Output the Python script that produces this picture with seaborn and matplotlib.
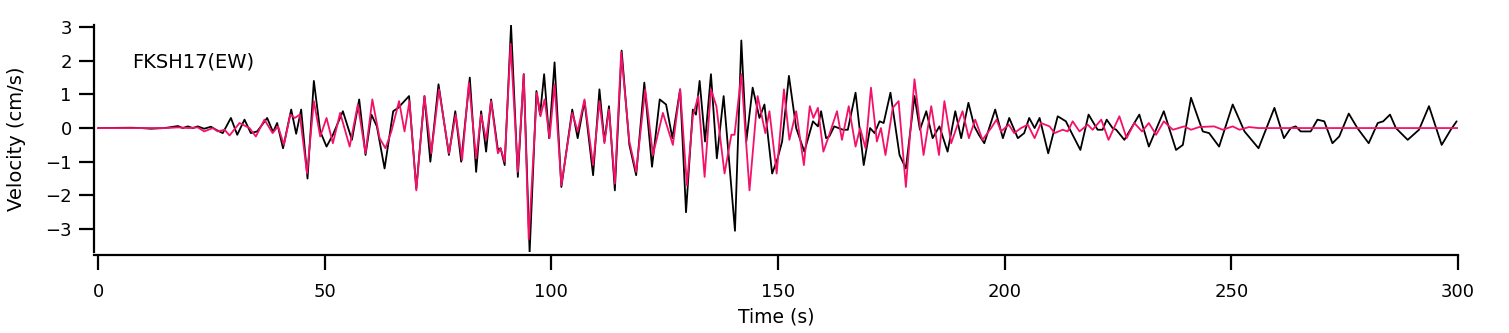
import matplotlib
matplotlib.use("Agg")
import matplotlib.pyplot as plt
import seaborn as sns
import pandas as pd

# ---- data ----
obs_t = [0, 7.3, 9.5, 11.7, 14.6, 15.7, 17.6, 18.7, 19.8, 20.9, 22.0, 23.4, 24.9, 26.0, 27.5,
         29.3, 30.7, 32.3, 33.7, 35.1, 37.3, 38.6, 39.5, 40.8, 42.6, 43.7, 44.8, 46.2, 47.6,
         49.0, 50.4, 51.8, 54.0, 56.0, 57.6, 59.0, 60.3, 61.5, 63.2, 65.1, 66.2, 68.6, 70.2,
         72.0, 73.3, 75.1, 77.4, 78.8, 80.1, 82.0, 83.4, 84.5, 85.6, 86.7, 88.2, 88.8, 89.7,
         91.1, 92.6, 93.9, 95.2, 96.7, 97.5, 98.4, 99.5, 100.7, 102.2, 104.6, 105.8, 107.3,
         109.2, 110.6, 111.7, 112.7, 114.0, 115.5, 117.2, 118.7, 120.5, 122.2, 123.9, 125.3,
         126.7, 128.4, 129.7, 131.2, 131.9, 132.7, 133.9, 135.2, 136.5, 138.0, 140.5, 141.9,
         143.0, 144.4, 145.9, 147.0, 148.7, 149.9, 150.9, 152.4, 154.0, 155.8, 157.7, 158.8,
         159.5, 160.6, 161.3, 162.4, 164.3, 165.4, 167.1, 168.9, 170.3, 171.3, 172.4, 173.3,
         174.8, 176.8, 178.2, 180.1, 181.3, 182.7, 184.1, 185.6, 187.4, 189.1, 190.4, 192.0,
         193.3, 194.3, 195.5, 197.9, 199.6, 201.0, 202.9, 204.3, 205.4, 206.6, 207.7, 209.6,
         211.7, 213.5, 214.6, 216.7, 218.5, 220.5, 221.6, 222.5, 223.8, 224.6, 226.4, 229.7,
         231.8, 235.1, 237.8, 239.3, 241.1, 243.7, 245.1, 247.3, 250.3, 252.9, 256.0, 259.5,
         261.6, 263.1, 264.2, 265.3, 267.5, 269.0, 270.5, 272.3, 273.8, 275.9, 277.8, 280.3,
         282.3, 283.5, 285.0, 286.3, 288.9, 291.4, 293.6, 296.4, 298.4, 299.7]
obs_v = [0, 0.01, 0, -0.02, 0, 0.02, 0.06, 0.0, 0.05, 0.0, 0.05, -0.02, 0.04, -0.05, -0.15,
         0.3, -0.2, 0.25, -0.15, -0.1, 0.3, -0.12, 0.15, -0.6, 0.55, -0.17, 0.55, -1.5, 1.4,
         -0.1, -0.55, -0.2, 0.5, -0.35, 0.85, -0.8, 0.4, 0.05, -1.2, 0.5, 0.6, 0.95, -1.8,
         0.95, -1.0, 1.3, -0.8, 0.5, -1.0, 1.5, -1.3, 0.5, -0.7, 0.85, -0.65, -0.6, -1.1,
         3.05, -1.45, 1.6, -3.7, 1.1, 0.4, 1.6, -0.3, 1.95, -1.75, 0.55, -0.3, 0.8,
         -1.4, 1.15, -0.4, 0.65, -1.85, 2.3, -0.5, -1.4, 1.35, -1.15, 0.85, 0.7,
         -0.3, 1.15, -2.5, 0.55, 0.4, 1.4, -0.4, 1.6, -0.9, 0.95, -3.05, 2.6,
         -0.4, 1.2, 0.3, 0.7, -1.35, -0.9, -0.4, 1.55, 0.0, -0.7, 0.2, 0.05,
         0.5, -0.3, -0.25, 0.05, -0.05, -0.05, 1.05, -1.1, 0.0, -0.15, 0.2, 0.15,
         1.05, -0.8, -1.2, 0.95, -0.05, 0.5, -0.3, 0.05, -0.7, 0.5, -0.3, 0.75,
         0.05, -0.2, -0.45, 0.55, -0.3, 0.3, -0.3, -0.15, 0.3, 0.0, 0.3, -0.75,
         0.35, 0.2, -0.1, -0.65, 0.4, -0.05, -0.05, 0.25, 0.0, -0.05, -0.35, 0.4,
         -0.55, 0.5, -0.65, -0.5, 0.9, -0.1, -0.15, -0.55, 0.7, -0.1, -0.6, 0.6,
         -0.3, 0.0, 0.05, -0.1, -0.1, 0.25, 0.2, -0.45, -0.25, 0.43, 0.0, -0.45,
         0.15, 0.2, 0.4, 0.0, -0.35, -0.05, 0.65, -0.5, -0.05, 0.2]

syn_t = [0, 15, 17.6, 20, 22.0, 23.4, 25.3, 26.4, 27.9, 29.0, 31.2, 33.4, 34.8, 36.7, 38.5,
         39.7, 41.0, 42.4, 43.4, 44.5, 46.1, 47.6, 49.0, 50.4, 51.8, 53.4, 55.5, 57.3, 59.0,
         60.5, 62.1, 63.4, 64.7, 66.4, 67.6, 68.7, 70.2, 72.0, 73.5, 75.2, 77.4, 78.9, 80.3,
         81.8, 83.4, 84.5, 85.6, 86.7, 88.2, 88.8, 89.7, 91.0, 92.6, 93.9, 95.0, 96.8, 97.6,
         98.5, 99.6, 100.7, 102.2, 104.6, 105.8, 107.3, 109.2, 110.6, 111.7, 112.7, 114.0,
         115.4, 117.2, 118.7, 120.7, 122.4, 124.6, 126.8, 128.4, 129.9, 131.2, 132.4, 133.8,
         135.2, 136.4, 138.2, 139.7, 140.4, 141.9, 143.7, 145.5, 147.2, 148.1, 149.7, 151.3,
         152.5, 154.0, 155.7, 157.0, 157.8, 158.8, 160.0, 161.3, 163.0, 164.1, 165.6, 167.1,
         168.1, 169.3, 170.5, 171.8, 172.7, 173.7, 175.3, 176.6, 178.2, 180.1, 182.1, 183.8,
         185.5, 186.7, 188.2, 189.6, 190.7, 192.1, 193.5, 195.1, 197.0, 198.2, 199.2, 200.9,
         202.1, 203.6, 205.1, 206.6, 208.0, 209.9, 211.0, 212.8, 213.9, 215.0, 216.5, 218.3,
         219.4, 221.3, 222.9, 225.3, 226.9, 228.6, 230.3, 231.8, 233.4, 235.1, 237.1, 239.6,
         241.1, 242.9, 246.2, 248.1, 250.3, 251.8, 253.9, 256.0, 300.0]
syn_v = [0, 0.0, 0.02, 0.0, 0.02, -0.1, 0.0, -0.1, -0.05, -0.22, 0.15, 0.0, -0.25, 0.25, -0.15,
         0.05, -0.5, 0.4, 0.3, 0.4, -1.35, 0.8, -0.25, 0.3, -0.45, 0.45, -0.55, 0.7, -0.75,
         0.85, -0.3, -0.6, -0.1, 0.8, -0.1, 0.8, -1.85, 0.95, -0.75, 1.15, -0.75, 0.4, -0.95,
         1.35, -0.9, 0.4, -0.35, 0.8, -0.75, -0.6, -1.0, 2.5, -1.3, 1.6, -3.3, 1.05, 0.35,
         0.85, -0.3, 1.3, -1.7, 0.45, -0.1, 0.85, -1.1, 0.8, -0.45, 0.55, -1.65,
         2.25, -0.4, -1.3, 1.15, -0.8, 0.45, -0.5, 1.15, -1.7, 0.35, 0.95, -1.45,
         1.15, 0.65, -1.35, -0.2, -0.2, 1.6, -1.85, 0.95, -0.15, 0.5, -1.35, 1.15,
         -0.35, 0.5, -1.1, 0.65, 0.3, 0.6, -0.7, -0.2, 0.5, -0.35, 0.65, -0.55,
         0.0, -0.6, 1.2, -0.4, 0.0, -0.8, 0.6, 0.8, -1.75, 1.45, -0.8, 0.65,
         -0.8, 0.8, -0.45, 0.1, 0.5, -0.3, 0.25, -0.35, 0.0, 0.25, -0.1, 0.1,
         -0.15, 0.0, 0.1, -0.3, 0.15, 0.05, -0.15, -0.05, -0.1, 0.2, -0.1, 0.1,
         -0.05, 0.25, -0.35, 0.35, -0.3, 0.15, -0.1, 0.15, -0.2, 0.2, -0.05, 0.05,
         -0.05, 0.03, 0.05, -0.05, 0.05, -0.05, 0.03, 0.0, 0.0]

x_ticks = [0, 50, 100, 150, 200, 250, 300]
y_ticks = [-3, -2, -1, 0, 1, 2, 3]
station_label = "FKSH17(EW)"
x_title = "Time (s)"
y_title = "Velocity (cm/s)"

# ---- figure ----
sns.set_style("ticks")
plt.rcParams['font.family'] = ['DejaVu Sans']
plt.rcParams['text.color'] = 'black'
plt.rcParams['axes.labelcolor'] = 'black'

W, H = 1509, 333
fig = plt.figure(figsize=(W / 100, H / 100), dpi=100)
left, right, top, bottom = 94, 1458, 25, 252
ax = fig.add_axes([left / W, 1 - bottom / H, (right - left) / W, (bottom - top) / H])

df_obs = pd.DataFrame({"t": obs_t, "v": obs_v})
df_syn = pd.DataFrame({"t": syn_t, "v": syn_v})
sns.lineplot(data=df_obs, x="t", y="v", ax=ax, color="black", lw=1.3,
             sort=False, estimator=None)
sns.lineplot(data=df_syn, x="t", y="v", ax=ax, color="#F5106A", lw=1.3,
             sort=False, estimator=None)

ax.set_xlim(-0.9, 300)
ax.set_ylim(-3.68, 3.06)
ax.set_xticks(x_ticks)
ax.set_yticks(y_ticks)
ax.set_yticklabels([str(v).replace("-", "\u2212") for v in y_ticks])

for side in ("top", "right"):
    ax.spines[side].set_visible(False)
for side in ("left", "bottom"):
    ax.spines[side].set_linewidth(1.6)
    ax.spines[side].set_color("black")
ax.spines["bottom"].set_position(("outward", 2.2))

ax.tick_params(axis="both", direction="out", length=11, width=1.6, colors="black",
               labelsize=13)
ax.tick_params(axis="y", pad=5)
ax.tick_params(axis="x", pad=9)

ax.set_xlabel(x_title, fontsize=13.5, labelpad=5)
ax.set_ylabel(y_title, fontsize=14, labelpad=14)
ax.text(7.6, 1.96, station_label, fontsize=14, ha="left", va="center")

fig.savefig("out.png", dpi=100)
